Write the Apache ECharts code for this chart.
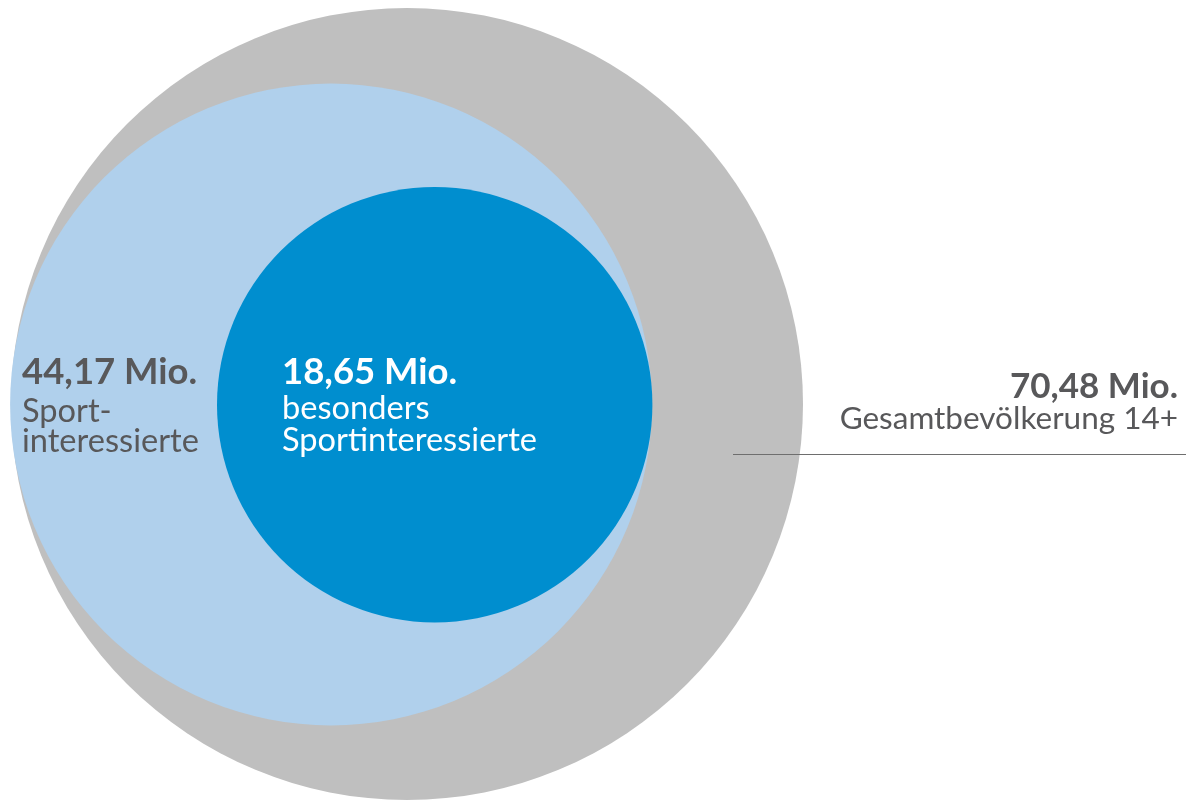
<!DOCTYPE html>
<html>
<head>
<meta charset="utf-8">
<title>Sportinteresse in Deutschland</title>
<script src="https://cdn.jsdelivr.net/npm/echarts@6/dist/echarts.min.js"></script>
<style>
  html, body { margin: 0; padding: 0; background: #ffffff; }
  #chart { width: 1191px; height: 801px; }
</style>
</head>
<body>
<div id="chart"></div>
<script>
// Population groups (millions), outermost first
const groups = ['Gesamtbevölkerung 14+', 'Sportinteressierte', 'besonders Sportinteressierte'];
const valuesMio = [70.48, 44.17, 18.65];
// Caption lines under each value label
const captionLines = [
  ['Gesamtbevölkerung 14+'],
  ['Sport-', 'interessierte'],
  ['besonders', 'Sportinteressierte']
];

// Layout: circle centres in canvas pixels and the radius of the largest circle
const layout = {
  centers: [[407, 404], [331, 404.5], [434.7, 404.7]],
  maxRadius: 396,
  exponent: 0.45
};
const colors = ['#bfbfbf', '#b0d0ec', '#008ecf'];
const textGray = '#58585a';
const fontFamily = 'Lato, "Open Sans", sans-serif';

const vmax = Math.max.apply(null, valuesMio);
const radiusOf = v => layout.maxRadius * Math.pow(v / vmax, layout.exponent);
const fmtMio = v => v.toFixed(2).replace('.', ',') + ' Mio.';

const seriesData = valuesMio.map((v, i) => ({
  name: groups[i],
  value: [layout.centers[i][0], layout.centers[i][1], radiusOf(v)],
  itemStyle: { color: colors[i] }
}));

// Label blocks: value line (bold) + caption lines, positioned by baseline
function labelBlock(idx, x, baseline, align, fill, lineGaps, bold, reg) {
  const els = [];
  els.push({
    type: 'text', z: 100,
    style: {
      x: x, y: baseline - 0.30 * bold,
      text: fmtMio(valuesMio[idx]),
      font: 'bold ' + bold + 'px ' + fontFamily,
      fill: fill, align: align, verticalAlign: 'middle'
    }
  });
  let b = baseline;
  captionLines[idx].forEach((line, k) => {
    b += lineGaps[k];
    els.push({
      type: 'text', z: 100,
      style: {
        x: x, y: b - 0.30 * reg,
        text: line,
        font: reg + 'px ' + fontFamily,
        fill: fill, align: align, verticalAlign: 'middle'
      }
    });
  });
  return els;
}

const graphics = []
  .concat(labelBlock(1, 22, 383, 'left', textGray, [38.5, 30], 36.5, 32.6))
  .concat(labelBlock(2, 282, 383, 'left', '#ffffff', [35, 32], 36.5, 32.6))
  .concat(labelBlock(0, 1178, 397, 'right', textGray, [31], 35, 31.5));
graphics.push({
  type: 'line', z: 100,
  shape: { x1: 733, y1: 454.5, x2: 1186, y2: 454.5 },
  style: { stroke: '#6e6e6e', lineWidth: 1 }
});

const chart = echarts.init(document.getElementById('chart'), null, { renderer: 'canvas' });
chart.setOption({
  animation: false,
  backgroundColor: '#ffffff',
  grid: { left: 0, right: 0, top: 0, bottom: 0 },
  xAxis: { type: 'value', min: 0, max: 1191, show: false },
  yAxis: { type: 'value', min: 0, max: 801, inverse: true, show: false },
  series: [{
    type: 'custom',
    z: 1,
    data: seriesData,
    renderItem: function (params, api) {
      const c = api.coord([api.value(0), api.value(1)]);
      const r = api.size([api.value(2), 0])[0];
      return {
        type: 'circle',
        shape: { cx: c[0], cy: c[1], r: r },
        style: { fill: api.visual('color') }
      };
    },
    encode: { x: 0, y: 1 }
  }],
  graphic: graphics
});
</script>
</body>
</html>
